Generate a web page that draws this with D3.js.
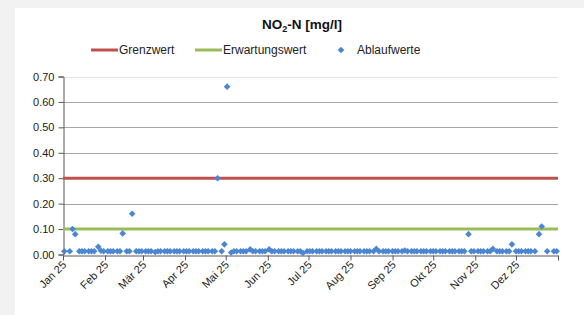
<!DOCTYPE html>
<html>
<head>
<meta charset="utf-8">
<script src="https://cdn.jsdelivr.net/npm/d3@7"></script>
<style>
  body { margin: 0; background: #f2f2f2; }
  svg { display: block; font-family: "Liberation Sans", Arial, sans-serif; }
</style>
</head>
<body>
<div id="chart"></div>
<script>
var janDays = [2, 6, 8, 10, 13, 15, 17, 20, 22, 24, 27, 29, 31];
var janVals = [0.013, 0.013, 0.10, 0.08, 0.013, 0.013, 0.013, 0.013, 0.013, 0.013, 0.03, 0.015, 0.013];
var febDays = [3, 5, 7, 10, 12, 14, 17, 19, 21, 24, 26, 28];
var febVals = [0.013, 0.013, 0.013, 0.013, 0.013, 0.083, 0.013, 0.013, 0.16, 0.013, 0.013, 0.013];
var marDays = [3, 5, 7, 10, 12, 14, 17, 19, 21, 24, 26, 28, 31];
var marVals = [0.013, 0.013, 0.013, 0.01, 0.013, 0.013, 0.013, 0.013, 0.013, 0.013, 0.013, 0.013, 0.013];
var aprDays = [2, 4, 7, 9, 11, 14, 16, 18, 21, 23, 25, 28, 30];
var aprVals = [0.013, 0.013, 0.013, 0.013, 0.013, 0.013, 0.013, 0.013, 0.013, 0.013, 0.30, 0.013, 0.04];
var mayDays = [2, 5, 7, 9, 12, 14, 16, 19, 21, 23, 26, 28, 30];
var mayVals = [0.66, 0.008, 0.013, 0.013, 0.013, 0.013, 0.013, 0.02, 0.013, 0.013, 0.013, 0.013, 0.013];
var junDays = [2, 4, 6, 9, 11, 13, 16, 18, 20, 23, 25, 27, 30];
var junVals = [0.02, 0.013, 0.013, 0.013, 0.013, 0.013, 0.013, 0.013, 0.013, 0.013, 0.013, 0.006, 0.013];
var julDays = [2, 4, 7, 9, 11, 14, 16, 18, 21, 23, 25, 28, 30];
var julVals = [0.013, 0.013, 0.013, 0.013, 0.013, 0.013, 0.013, 0.013, 0.013, 0.013, 0.013, 0.013, 0.013];
var augDays = [1, 4, 6, 8, 11, 13, 15, 18, 20, 22, 25, 27, 29];
var augVals = [0.013, 0.013, 0.013, 0.013, 0.013, 0.013, 0.013, 0.013, 0.022, 0.013, 0.013, 0.013, 0.013];
var sepDays = [1, 3, 5, 8, 10, 12, 15, 17, 19, 22, 24, 26, 29];
var sepVals = [0.013, 0.013, 0.013, 0.013, 0.016, 0.013, 0.013, 0.013, 0.013, 0.013, 0.013, 0.013, 0.013];
var octDays = [1, 3, 6, 8, 10, 13, 15, 17, 20, 22, 24, 27, 29, 31];
var octVals = [0.013, 0.013, 0.013, 0.013, 0.013, 0.013, 0.013, 0.013, 0.013, 0.013, 0.013, 0.08, 0.013, 0.013];
var novDays = [3, 5, 7, 10, 12, 14, 17, 19, 21, 24, 26, 28];
var novVals = [0.013, 0.013, 0.013, 0.013, 0.013, 0.022, 0.013, 0.013, 0.013, 0.013, 0.013, 0.04];
var decDays = [1, 3, 5, 8, 10, 12, 15, 18, 20, 24, 29, 31];
var decVals = [0.013, 0.013, 0.013, 0.013, 0.013, 0.013, 0.013, 0.08, 0.11, 0.013, 0.013, 0.013];

var monthLabels = ["Jan 25", "Feb 25", "Mär 25", "Apr 25", "Mai 25", "Jun 25",
                   "Jul 25", "Aug 25", "Sep 25", "Okt 25", "Nov 25", "Dez 25"];
var yTicks = [0, 0.1, 0.2, 0.3, 0.4, 0.5, 0.6, 0.7];
var grenzwert = 0.30;
var erwartungswert = 0.10;

var w = 584, h = 315;
var margin = { top: 77, left: 63, right: 26, bottom: 61 };

var monthDays = [janDays, febDays, marDays, aprDays, mayDays, junDays, julDays, augDays, sepDays, octDays, novDays, decDays];
var monthVals = [janVals, febVals, marVals, aprVals, mayVals, junVals, julVals, augVals, sepVals, octVals, novVals, decVals];
var data = [];
for (var m = 0; m < 12; m++) {
  for (var i = 0; i < monthDays[m].length; i++) {
    data.push({ date: new Date(2025, m, monthDays[m][i]), value: monthVals[m][i] });
  }
}

var svg = d3.select("#chart").append("svg").attr("width", w).attr("height", h);

// white chart area
svg.append("rect").attr("x", 15).attr("y", 8).attr("width", w - 15).attr("height", h - 8).attr("fill", "#fff");

var x = d3.scaleTime()
  .domain([new Date(2025, 0, 1), new Date(2026, 0, 1)])
  .range([margin.left, w - margin.right]);
var y = d3.scaleLinear()
  .domain([0, 0.7])
  .range([h - margin.bottom + 0.5, margin.top - 0.5]);

// gridlines
svg.append("g").selectAll("line")
  .data(yTicks.slice(1))
  .enter().append("line")
  .attr("x1", margin.left).attr("x2", w - margin.right)
  .attr("y1", function(d) { return Math.round(y(d)) + 0.5; })
  .attr("y2", function(d) { return Math.round(y(d)) + 0.5; })
  .attr("stroke", function(d) { return d == 0.7 ? "#e4e4e4" : "#a6a6a6"; })
  .attr("stroke-width", 1);

// y axis
var yAxis = svg.append("g")
  .attr("transform", "translate(" + (margin.left + 0.5) + ",0)")
  .call(d3.axisLeft(y).tickValues(yTicks).tickFormat(d3.format(".2f")).tickSize(5).tickPadding(4));
yAxis.select(".domain").attr("stroke", "#595959");
yAxis.selectAll(".tick line").attr("stroke", "#595959");
yAxis.selectAll("text").attr("font-size", 11).attr("fill", "#222").attr("font-family", "Liberation Sans, Arial, sans-serif");

// x axis
var monthStarts = d3.timeMonth.range(new Date(2025, 0, 1), new Date(2026, 0, 2));
var xAxis = svg.append("g")
  .attr("transform", "translate(0," + (Math.round(y(0)) + 0.5) + ")")
  .call(d3.axisBottom(x).tickValues(monthStarts).tickSize(5).tickSizeOuter(0).tickFormat(""));
xAxis.select(".domain").attr("stroke", "#595959");
xAxis.selectAll(".tick line").attr("stroke", "#595959");

svg.append("g").selectAll("text")
  .data(monthStarts.slice(0, 12))
  .enter().append("text")
  .attr("transform", function(d) { return "translate(" + (x(d) + 4) + "," + (y(0) + 11) + ") rotate(-45)"; })
  .attr("text-anchor", "end")
  .attr("font-size", 11)
  .attr("fill", "#222")
  .text(function(d, i) { return monthLabels[i]; });

// reference lines
svg.append("line")
  .attr("x1", margin.left).attr("x2", w - margin.right)
  .attr("y1", y(grenzwert)).attr("y2", y(grenzwert))
  .attr("stroke", "#c0504d").attr("stroke-width", 3);
svg.append("line")
  .attr("x1", margin.left).attr("x2", w - margin.right)
  .attr("y1", y(erwartungswert)).attr("y2", y(erwartungswert))
  .attr("stroke", "#9bbb59").attr("stroke-width", 3);

// points (square diamonds like the spreadsheet marker)
var diamond = "M0,-3.3L3.3,0L0,3.3L-3.3,0Z";
svg.append("g").selectAll("path")
  .data(data)
  .enter().append("path")
  .attr("d", diamond)
  .attr("transform", function(d) { return "translate(" + x(d.date) + "," + y(d.value) + ")"; })
  .attr("fill", "#4a86d2");

// title
var title = svg.append("text")
  .attr("x", 302).attr("y", 29)
  .attr("text-anchor", "middle")
  .attr("font-size", 13.5).attr("font-weight", "bold").attr("fill", "#111");
title.append("tspan").text("NO");
title.append("tspan").attr("font-size", 9).attr("dy", 3).text("2");
title.append("tspan").attr("dy", -3).text("-N [mg/l]");

// legend
var lg = svg.append("g").attr("font-size", 12).attr("fill", "#222");
lg.append("line").attr("x1", 91).attr("x2", 118).attr("y1", 50).attr("y2", 50).attr("stroke", "#c0504d").attr("stroke-width", 3);
lg.append("text").attr("x", 119).attr("y", 54).text("Grenzwert");
lg.append("line").attr("x1", 195).attr("x2", 222).attr("y1", 50).attr("y2", 50).attr("stroke", "#9bbb59").attr("stroke-width", 3);
lg.append("text").attr("x", 223).attr("y", 54).text("Erwartungswert");
lg.append("path").attr("d", diamond).attr("transform", "translate(341,50)").attr("fill", "#4a86d2");
lg.append("text").attr("x", 357).attr("y", 54).text("Ablaufwerte");
</script>
</body>
</html>
